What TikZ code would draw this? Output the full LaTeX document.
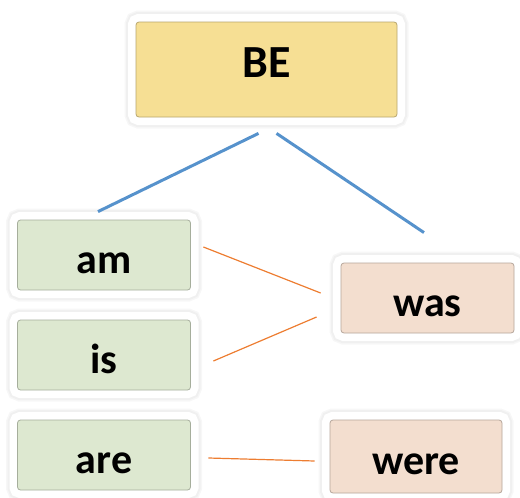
\documentclass[tikz,border=0pt]{standalone}
\usepackage{fontspec}
\setmainfont{Carlito}
\definecolor{beyellow}{RGB}{246,223,148}
\definecolor{presgreen}{RGB}{221,232,208}
\definecolor{pastpink}{RGB}{243,222,207}
\definecolor{treeblue}{RGB}{86,146,204}
\definecolor{linkorange}{RGB}{237,125,49}
\tikzset{
  framed/.style={rounded corners=3pt, inner sep=0pt,
    preaction={draw=black!3, line width=23pt},
    preaction={draw=black!6, line width=20pt},
    preaction={draw=white, line width=16pt}},
  wordbox/.style={framed, minimum width=173pt, minimum height=70pt,
    font=\bfseries\fontsize{42}{42}\selectfont, text height=36pt, text depth=0pt},
  presbox/.style={wordbox, fill=presgreen, draw=presgreen!75!black, line width=0.8pt},
  pastbox/.style={wordbox, fill=pastpink, draw=pastpink!75!black, line width=0.8pt},
  treeline/.style={draw=treeblue, line width=3pt},
  linkline/.style={draw=linkorange, line width=1.2pt}
}
\begin{document}
\begin{tikzpicture}[x=1pt, y=-1pt]
  \useasboundingbox (0,0) rectangle (520,498);
  % verb and its forms
  \node[framed, fill=beyellow, draw=beyellow!75!black, line width=0.8pt,
        minimum width=261pt, minimum height=95pt,
        font=\bfseries\fontsize{46}{46}\selectfont, text height=16pt, text depth=0pt]
        (be) at (266.5,69.5) {BE};
  \node[presbox] (am)  at (104,255) {am};
  \node[presbox] (is)  at (104,355) {is};
  \node[presbox] (are) at (104,455) {are};
  \node[pastbox] (was)  at (427.5,298) {was};
  \node[pastbox, minimum width=172pt, minimum height=73pt] (were) at (416,456.5) {were};

  % tree
  \draw[treeline] ([xshift=-8pt, yshift=-16pt]be.south) -- ([xshift=-6pt, yshift=8pt]am.north);
  \draw[treeline] ([xshift=10pt, yshift=-16pt]be.south) -- ([xshift=-3.5pt, yshift=30pt]was.north);

  % present -> past
  \draw[linkline] ([xshift=12.5pt, yshift=8pt]am.east) -- ([xshift=-20pt, yshift=5pt]was.west);
  \draw[linkline] ([xshift=22.5pt, yshift=-6pt]is.east) -- ([xshift=-24pt, yshift=-19pt]was.west);
  \draw[linkline] ([xshift=17.5pt, yshift=-3pt]are.east) -- ([xshift=-15pt, yshift=-4.5pt]were.west);
\end{tikzpicture}
\end{document}
